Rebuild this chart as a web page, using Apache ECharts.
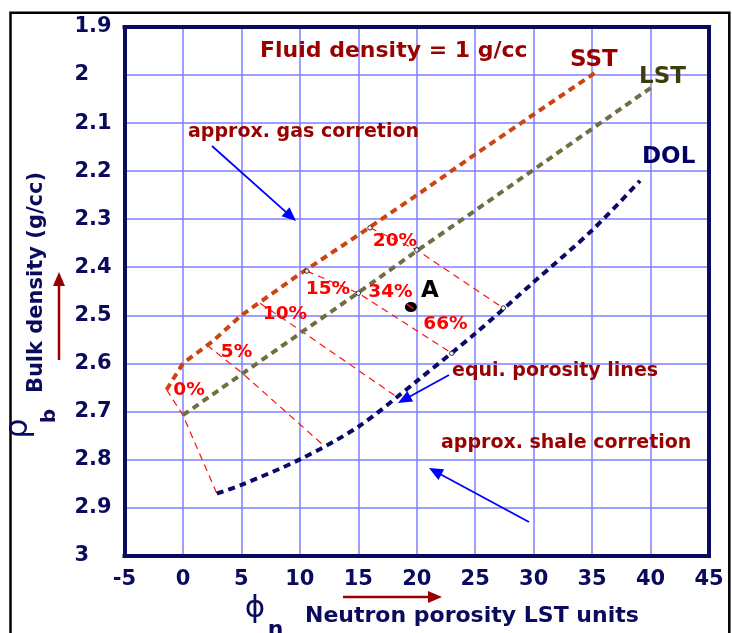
<!DOCTYPE html>
<html>
<head>
<meta charset="utf-8">
<script src="https://cdn.jsdelivr.net/npm/echarts@6/dist/echarts.min.js"></script>
<style>html,body{margin:0;padding:0;background:#fff}#c{width:732px;height:633px}</style>
</head>
<body>
<div id="c"></div>
<script>
// ---- data ----
const sstX = [-1.4, 0, 2.5, 5, 10, 15, 20, 25, 30, 35.2];
const sstY = [2.655, 2.60, 2.555, 2.50, 2.414, 2.333, 2.25, 2.165, 2.082, 1.996];
const lstX = [0, 5, 10, 15, 20, 25, 30, 35, 40];
const lstY = [2.708, 2.623, 2.538, 2.453, 2.366, 2.282, 2.197, 2.112, 2.027];
const dolX = [2.9, 5, 10, 15, 20, 25, 30, 35, 39.1];
const dolY = [2.871, 2.853, 2.80, 2.732, 2.637, 2.538, 2.431, 2.323, 2.22];
// equi-porosity lines (SST -> LST -> DOL crossings)
const porosityLabels = ['0%', '5%', '10%', '15%', '20%'];
const eqSstX = [-1.4, 2.05, 6.6, 10.6, 16.0];
const eqSstY = [2.655, 2.562, 2.475, 2.408, 2.318];
const eqLstX = [0, 5.1, 10.2, 15.0, 20.0];
const eqLstY = [2.708, 2.621, 2.534, 2.454, 2.364];
const eqDolX = [2.9, 11.9, 18.3, 23.0, 27.4];
const eqDolY = [2.871, 2.768, 2.670, 2.579, 2.485];
const pointA = [19.5, 2.483];
const splitLabels = ['34%', '66%'];
const xTickLabels = ['-5', '0', '5', '10', '15', '20', '25', '30', '35', '40', '45'];
const yTickLabels = ['1.9', '2', '2.1', '2.2', '2.3', '2.4', '2.5', '2.6', '2.7', '2.8', '2.9', '3'];

// ---- styling ----
const navy = '#0b0b5e';
const dred = '#990000';
const FF = '"DejaVu Sans"';
const bold = fs => `bold ${fs}px ${FF}`;

function pairs(xs, ys) { return xs.map((x, i) => [x, ys[i]]); }

function arrow(x1, y1, x2, y2, color, w, hl, hw) {
  const dx = x2 - x1, dy = y2 - y1, L = Math.hypot(dx, dy), ux = dx / L, uy = dy / L;
  const bx = x2 - ux * hl, by = y2 - uy * hl;
  return [
    {type: 'line', z: 50, shape: {x1: x1, y1: y1, x2: bx + ux, y2: by + uy}, style: {stroke: color, lineWidth: w}},
    {type: 'polygon', z: 50, shape: {points: [[x2, y2], [bx - uy * hw, by + ux * hw], [bx + uy * hw, by - ux * hw]]}, style: {fill: color}}
  ];
}
function txt(text, x, y, font, color, align, rotation) {
  return {type: 'text', z: 60, x: x, y: y, rotation: rotation || 0,
    style: {text: text, font: font, fill: color, align: align || 'left', verticalAlign: 'middle'}};
}

const equiSeries = porosityLabels.map((p, i) => ({
  type: 'line', name: p, silent: true, symbol: 'none', z: 2,
  data: [[eqSstX[i], eqSstY[i]], [eqLstX[i], eqLstY[i]], [eqDolX[i], eqDolY[i]]],
  lineStyle: {color: '#ff1010', width: 1.2, type: [7, 5]}
}));

const crossPts = [];
[3, 4].forEach(i => {
  crossPts.push([eqSstX[i], eqSstY[i]], [eqLstX[i], eqLstY[i]], [eqDolX[i], eqDolY[i]]);
});

const axisBorder = {show: true, onZero: false, lineStyle: {color: navy, width: 4, cap: 'square'}};

const option = {
  backgroundColor: '#fff',
  animation: false,
  textStyle: {fontFamily: FF},
  grid: {left: 124.5, right: 23, top: 27, bottom: 77.5},
  xAxis: [{
    type: 'value', min: -5, max: 45, interval: 5, position: 'bottom',
    axisLine: axisBorder, axisTick: {show: false},
    axisLabel: {color: navy, fontFamily: FF, fontWeight: 'bold', fontSize: 21, margin: 14,
      formatter: v => xTickLabels[Math.round((v + 5) / 5)]},
    splitLine: {show: true, showMinLine: false, showMaxLine: false, lineStyle: {color: '#7f7fff', width: 1.5}}
  }, {
    type: 'value', min: -5, max: 45, interval: 5, position: 'top',
    axisLine: axisBorder, axisTick: {show: false}, axisLabel: {show: false}, splitLine: {show: false}
  }],
  yAxis: [{
    type: 'value', inverse: true, min: 1.9, max: 3.0, interval: 0.1, position: 'left',
    axisLine: axisBorder, axisTick: {show: false},
    axisLabel: {color: navy, fontFamily: FF, fontWeight: 'bold', fontSize: 21, margin: 50, align: 'left',
      padding: [0, 0, 13, 0],
      formatter: v => yTickLabels[Math.round((v - 1.9) * 10)]},
    splitLine: {show: true, showMinLine: false, showMaxLine: false, lineStyle: {color: '#7f7fff', width: 1.5}}
  }, {
    type: 'value', inverse: true, min: 1.9, max: 3.0, interval: 0.1, position: 'right',
    axisLine: axisBorder, axisTick: {show: false}, axisLabel: {show: false}, splitLine: {show: false}
  }],
  series: [
    ...equiSeries,
    {type: 'line', name: 'SST', symbol: 'none', z: 3, data: pairs(sstX, sstY),
      lineStyle: {color: '#cc4411', width: 4, type: [7, 5]}},
    {type: 'line', name: 'LST', symbol: 'none', z: 3, data: pairs(lstX, lstY),
      lineStyle: {color: '#6f6f40', width: 4, type: [7, 5]}},
    {type: 'line', name: 'DOL', symbol: 'none', z: 3, smooth: 0.3, data: pairs(dolX, dolY),
      lineStyle: {color: '#0a0a66', width: 4, type: [7, 5]}},
    {type: 'scatter', name: 'cross', z: 5, symbol: 'circle', symbolSize: 4.5, data: crossPts,
      itemStyle: {color: '#fff', borderColor: '#000', borderWidth: 1}},
    {type: 'scatter', name: 'A', z: 6, symbol: 'circle', symbolSize: [12, 10], data: [pointA],
      itemStyle: {color: '#000', opacity: 1},
      label: {show: true, formatter: 'A', position: 'inside', offset: [19, -16],
        color: '#000', fontFamily: FF, fontWeight: 'bold', fontSize: 23}},
    {type: 'line', name: 'Amark', symbol: 'none', z: 7,
      data: [[pointA[0] - 0.35, pointA[1] - 0.006], [pointA[0] + 0.2, pointA[1] + 0.003]],
      lineStyle: {color: '#ff1a1a', width: 1.5}}
  ],
  graphic: [
    {type: 'rect', z: 40, shape: {x: 10.5, y: 12.8, width: 718.8, height: 700},
      style: {fill: 'transparent', stroke: '#000', lineWidth: 2.5}},
    txt('Fluid density = 1 g/cc', 260, 51.4, bold(22), dred),
    txt('approx. gas corretion', 188, 132.3, bold(19), dred),
    txt('SST', 570, 60, bold(23), dred),
    txt('LST', 639, 77, bold(23), '#3d3d0f'),
    txt('DOL', 642, 157, bold(23), '#000066'),
    txt('equi. porosity lines', 452, 371.3, bold(19), dred),
    txt('approx. shale corretion', 441, 443.3, bold(19), dred),
    txt(porosityLabels[0], 189, 390.5, bold(18.5), '#ff0000', 'center'),
    txt(porosityLabels[1], 236.5, 352, bold(18.5), '#ff0000', 'center'),
    txt(porosityLabels[2], 285, 314, bold(18.5), '#ff0000', 'center'),
    txt(porosityLabels[3], 328, 289, bold(18.5), '#ff0000', 'center'),
    txt(porosityLabels[4], 395, 241, bold(18.5), '#ff0000', 'center'),
    txt(splitLabels[0], 390.5, 292.5, bold(18.5), '#ff0000', 'center'),
    txt(splitLabels[1], 445.5, 324, bold(18.5), '#ff0000', 'center'),
    ...arrow(212, 146, 296, 221, '#0000ff', 1.8, 14, 6),
    ...arrow(449, 375, 398, 403, '#0000ff', 1.8, 14, 6),
    ...arrow(529, 522, 429, 468, '#0000ff', 1.8, 14, 6),
    ...arrow(59, 360, 59, 272, dred, 2.5, 14, 6),
    ...arrow(343, 597, 442, 597, dred, 2.5, 14, 6),
    txt('Bulk density (g/cc)', 36.7, 282.5, bold(21), navy, 'center', Math.PI / 2),
    txt('\u03C1', 19, 428.5, `32px ${FF}`, navy, 'center', Math.PI / 2),
    txt('b', 50, 416, bold(20), navy, 'center', Math.PI / 2),
    txt('\u03D5', 255, 609, `31px ${FF}`, navy, 'center'),
    txt('n', 275.5, 630, bold(22), navy, 'center'),
    txt('Neutron porosity LST units', 305, 616.4, bold(22), navy)
  ]
};

const chart = echarts.init(document.getElementById('c'), null, {renderer: 'canvas'});
chart.setOption(option);
</script>
</body>
</html>
